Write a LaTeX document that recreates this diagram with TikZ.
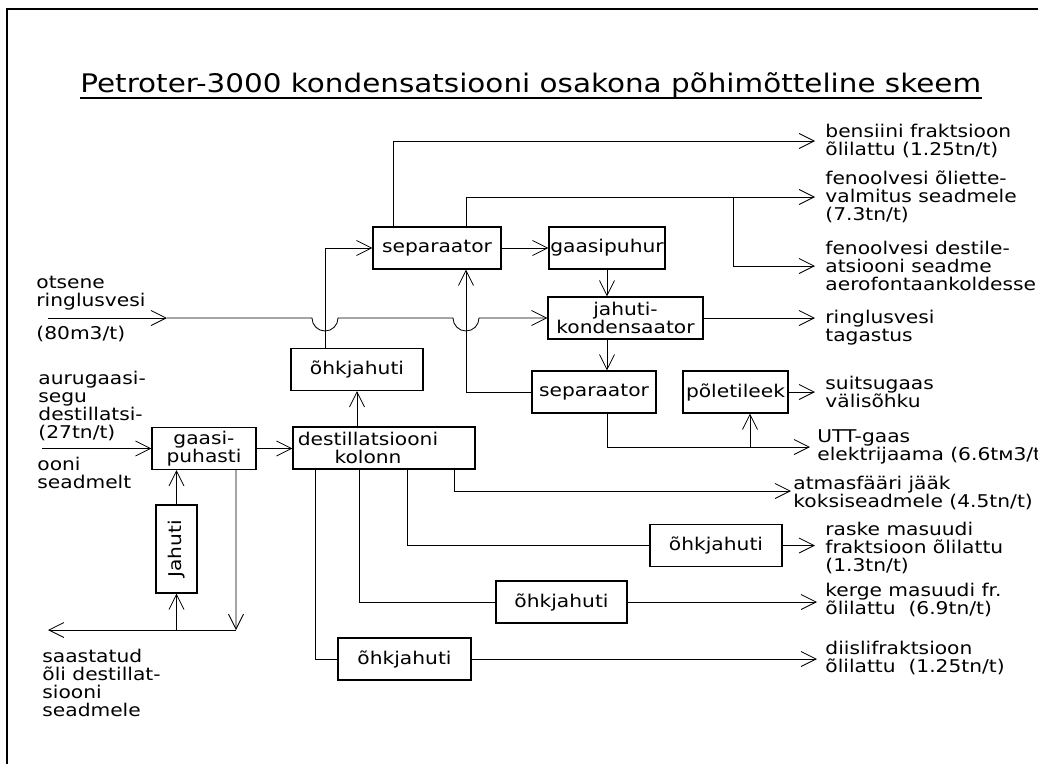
\documentclass[tikz,border=0pt]{standalone}
\usepackage{fontspec}
\setmainfont{DejaVu Sans}[FakeStretch=1.15]
\usetikzlibrary{arrows.meta}
\newcommand{\lblfont}{\fontsize{12.5}{13}\selectfont\lineskiplimit=-30pt}
\newcommand{\titlefont}{\fontsize{18.2}{22}\selectfont}
\tikzset{
	box/.style={draw, line width=0.8pt, inner sep=0pt, minimum height=1.05cm, align=center, font=\lblfont},
	flow/.style={-{Straight Barb[length=0.375cm,width=0.375cm,line width=0.6pt]}},
	lbl/.style={anchor=west, align=left, inner sep=0pt, font=\lblfont}
}

\begin{document}
\begin{tikzpicture}[x=0.025cm,y=-0.025cm,line width=0.6pt]
			%%%%% START %%%%%
			\useasboundingbox (0,0) rectangle (1038,764);
			\draw[line width=1.4pt] (1038,9) -- (7,9) -- (7,764);
			\node[anchor=base west, inner sep=0pt, font=\titlefont] (title) at (80,92) {Petroter-3000 kondensatsiooni osakona põhimõtteline skeem};
			\draw[line width=1pt] ([yshift=-0.15cm]title.base west) -- ([yshift=-0.15cm]title.base east);
			
			\node[box, minimum width=3.2cm] (sepA) at (437,248) {separaator};
			\node[box, minimum width=2.9cm] (puhur) at (607,248) {gaasipuhur};
			\node[box, minimum width=3.875cm] (kond) at (625.5,318) {jahuti-\\kondensaator};
			\node[box, minimum width=3.1cm] (sepB) at (594,392) {separaator};
			\node[box, minimum width=2.625cm] (leek) at (735.5,392) {põletileek};
			\node[box, minimum width=3.3cm] (ohkA) at (357,369.5) {õhkjahuti};
			\node[box, minimum width=2.6cm] (puhasti) at (204,448.5) {gaasi-\\puhasti};
			\node[box, minimum width=4.55cm] (kolonn) at (384,448) {destillatsiooni\hspace*{0.8cm}\\kolonn\hspace*{0.8cm}};
			\node[box, minimum width=1.025cm, minimum height=2.2cm] (jahuti) at (176.5,549) {\rotatebox{90}{Jahuti}};
			\node[box, minimum width=3.3cm] (ohkB) at (716,545.5) {õhkjahuti};
			\node[box, minimum width=3.275cm] (ohkC) at (561.5,602) {õhkjahuti};
			\node[box, minimum width=3.325cm] (ohkD) at (404.5,659) {õhkjahuti};
			
			\coordinate (bensOut) at (815,141);
			\coordinate (fenAOut) at (815,197);
			\coordinate (fenBOut) at (815,266);
			\coordinate (fenBr) at (733,197);
			\coordinate (ringOut) at (815,318);
			\coordinate (suitsOut) at (815,392);
			\coordinate (uttOut) at (810,447);
			\coordinate (uttBr) at (750,447);
			\coordinate (atmOut) at (791,491);
			\coordinate (raskeOut) at (815,545);
			\coordinate (kergeOut) at (817,602);
			\coordinate (diiselOut) at (817,659);
			\coordinate (otsIn) at (48,318);
			\coordinate (otsMid) at (167,318);
			\coordinate (hopA) at (312,318);
			\coordinate (hopB) at (453,318);
			\coordinate (auruIn) at (42,448.5);
			\coordinate (saastBr) at (236,630);
			\coordinate (saastOut) at (48,630);
			
			% upper separator and condenser
			\draw[flow] ([xshift=-1.1cm]sepA.north) |- (bensOut);
			\draw[flow] ([xshift=0.725cm]sepA.north) |- (fenAOut);
			\draw[flow] (fenBr) |- (fenBOut);
			\draw[flow] (sepA) -- (puhur);
			\draw[flow] (puhur) -- (kond.north -| puhur);
			\draw[flow] (kond.east) -- (ringOut);
			\draw[flow] (kond.south -| puhur) -- (sepB.north -| puhur);
			\draw[flow] (sepB.west) -| ([xshift=0.725cm]sepA.south);
			\draw[flow] (sepB.south -| puhur) |- (uttOut);
			\draw[flow] (uttBr) -- (uttBr |- leek.south);
			\draw[flow] (leek) -- (suitsOut);
			\draw[flow] ([xshift=-0.8cm]ohkA.north) |- (sepA.west);
			\draw[flow] (kolonn.north -| ohkA) -- (ohkA);
			\draw[flow] (otsIn) -- (otsMid);
			\draw[flow] (otsMid) -- (hopA) arc (180:0:13) -- (hopB) arc (180:0:13) -- (kond.west);
			
			% gas cleaning
			\draw[flow] (auruIn) -- (auruIn -| puhasti.west);
			\draw[flow] (puhasti.east) -- (puhasti.east -| kolonn.west);
			\draw[flow] ([xshift=0.8cm]puhasti.south) -- (saastBr);
			\draw[flow] (saastBr) -- (saastOut);
			\draw[flow] (jahuti.south |- saastBr) -- (jahuti.south);
			\draw[flow] (jahuti.north) -- (jahuti.north |- puhasti.south);
			
			% column outlets
			\draw ([xshift=-1.725cm]kolonn.south) |- (ohkD.west);
			\draw ([xshift=-0.625cm]kolonn.south) |- (ohkC.west);
			\draw ([xshift=0.575cm]kolonn.south) |- (ohkB.west);
			\draw[flow] ([xshift=1.75cm]kolonn.south) |- (atmOut);
			\draw[flow] (ohkB.east) -- (ohkB.east -| raskeOut);
			\draw[flow] (ohkC.east) -- (ohkC.east -| kergeOut);
			\draw[flow] (ohkD.east) -- (ohkD.east -| diiselOut);
			
			% texts
			\node[lbl] (bensTxt) at (825,141) {bensiini fraktsioon\\õlilattu (1.25tn/t)};
			\node[lbl] (fenATxt) at (825,197) {fenoolvesi õliette-\\valmitus seadmele\\(7.3tn/t)};
			\node[lbl] (fenBTxt) at (825,266) {fenoolvesi destile-\\atsiooni seadme\\aerofontaankoldesse};
			\node[lbl] (ringTxt) at (825,328) {ringlusvesi\\tagastus};
			\node[lbl] (suitsTxt) at (825,392) {suitsugaas\\välisõhku};
			\node[lbl] (uttTxt) at (817,447) {UTT-gaas\\elektrijaama (6.6tм3/t)};
			\node[lbl] (atmTxt) at (793,493) {atmasfääri jääk\\koksiseadmele (4.5tn/t)};
			\node[lbl] (raskeTxt) at (825,548) {raske masuudi\\fraktsioon õlilattu\\(1.3tn/t)};
			\node[lbl] (kergeTxt) at (825,600) {kerge masuudi fr.\\õlilattu\ \ (6.9tn/t)};
			\node[lbl] (diiselTxt) at (825,658) {diislifraktsioon\\õlilattu\ \ (1.25tn/t)};
			\node[lbl] (otsTxt) at (36,293) {otsene\\ringlusvesi};
			\node[lbl] (otsQty) at (36,334) {(80m3/t)};
			\node[lbl] (auruTxt) at (38,406) {aurugaasi-\\segu\\destillatsi-\\(27tn/t)};
			\node[lbl] (ooniTxt) at (37,473) {ooni\\seadmelt};
			\node[lbl] (saastTxt) at (42,683) {saastatud\\õli destillat-\\siooni\\seadmele};
			%%%%% END %%%%%
\end{tikzpicture}
\end{document}
